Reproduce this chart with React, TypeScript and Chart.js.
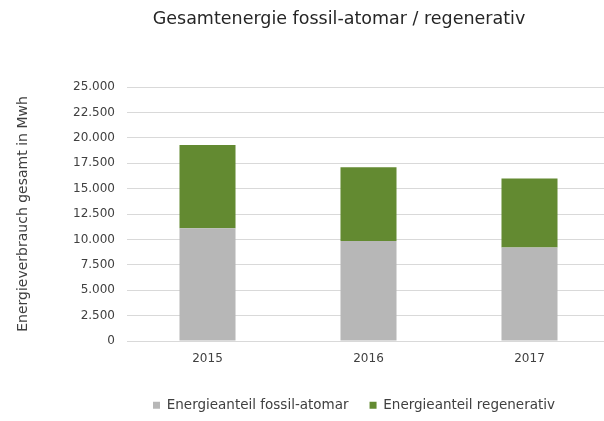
import React, { useEffect, useRef } from 'react';
import { Chart, registerables } from 'chart.js';

Chart.register(...registerables);

const categories = ['2015', '2016', '2017'];
const fossilValues = [11100, 9850, 9200];
const regenValues = [8200, 7250, 6800];
const seriesNames = ['Energieanteil fossil-atomar', 'Energieanteil regenerativ'];
const yMin = 0;
const yMax = 25000;
const yStep = 2500;
const chartTitle = 'Gesamtenergie fossil-atomar / regenerativ';
const yAxisTitle = 'Energieverbrauch gesamt in Mwh';

const FONT = '"DejaVu Sans", Verdana, sans-serif';
const TEXT = '#404040';

function formatDe(v: number): string {
  const s = Math.round(v).toString();
  return s.replace(/\B(?=(\d{3})+(?!\d))/g, '.');
}

// Excel places title and legend slightly right of the canvas centre
const offsetPlugin = {
  id: 'offsetBoxes',
  afterLayout(chart: any) {
    const t = chart.titleBlock;
    if (t) {
      const dx = 339 - (t.left + t.right) / 2;
      t.left += dx;
      t.right += dx;
    }
    const l = chart.legend;
    if (l && l.lineWidths) {
      const p = l.options.labels.padding;
      const start = (l.left + p + l.right - l.lineWidths[0]) / 2;
      const dx = 153 - start;
      l.left += dx;
      l.right += dx;
    }
  },
};

export default function App() {
  const ref = useRef<HTMLCanvasElement | null>(null);
  useEffect(() => {
    document.body.style.overflow = 'hidden';
    const canvas = ref.current;
    if (!canvas) return;
    const chart = new Chart(canvas, {
      type: 'bar',
      data: {
        labels: categories,
        datasets: [
          {
            label: seriesNames[0],
            data: fossilValues,
            backgroundColor: '#B7B7B7',
            barPercentage: 0.348,
            categoryPercentage: 1,
          },
          {
            label: seriesNames[1],
            data: regenValues,
            backgroundColor: '#638A31',
            barPercentage: 0.348,
            categoryPercentage: 1,
          },
        ],
      },
      options: {
        responsive: false,
        animation: false,
        layout: { padding: { left: 0, right: 2, top: 0, bottom: -1 } },
        plugins: {
          title: {
            display: true,
            text: chartTitle,
            color: '#262626',
            font: { family: FONT, size: 17.5, weight: 'normal' },
            padding: { top: 8.5, bottom: 57.5 },
          },
          legend: {
            display: true,
            position: 'bottom',
            labels: {
              color: TEXT,
              font: { family: FONT, size: 13.5 },
              boxWidth: 7,
              boxHeight: 7,
              padding: 21,
            },
          },
          tooltip: { enabled: false },
        },
        scales: {
          x: {
            stacked: true,
            grid: { display: false },
            border: { display: false },
            ticks: { color: TEXT, font: { family: FONT, size: 12 }, padding: 3 },
            afterFit: (scale: any) => {
              scale.height = 36.5;
            },
          },
          y: {
            stacked: true,
            min: yMin,
            max: yMax,
            grid: { color: '#D9D9D9', drawTicks: false, lineWidth: 1 },
            border: { display: false },
            ticks: {
              stepSize: yStep,
              color: TEXT,
              font: { family: FONT, size: 12 },
              padding: 12,
              callback: (v: any) => formatDe(Number(v)),
            },
            title: {
              display: true,
              text: yAxisTitle,
              color: TEXT,
              font: { family: FONT, size: 14 },
              padding: { top: 15, bottom: 0 },
            },
            afterFit: (scale: any) => {
              scale.width = 127;
            },
          },
        },
      },
      plugins: [offsetPlugin],
    });
    return () => chart.destroy();
  }, []);
  return (
    <div style={{ position: 'absolute', left: 0, top: 0, width: 612, height: 421, background: '#fff' }}>
      <canvas ref={ref} width={612} height={421} />
    </div>
  );
}
